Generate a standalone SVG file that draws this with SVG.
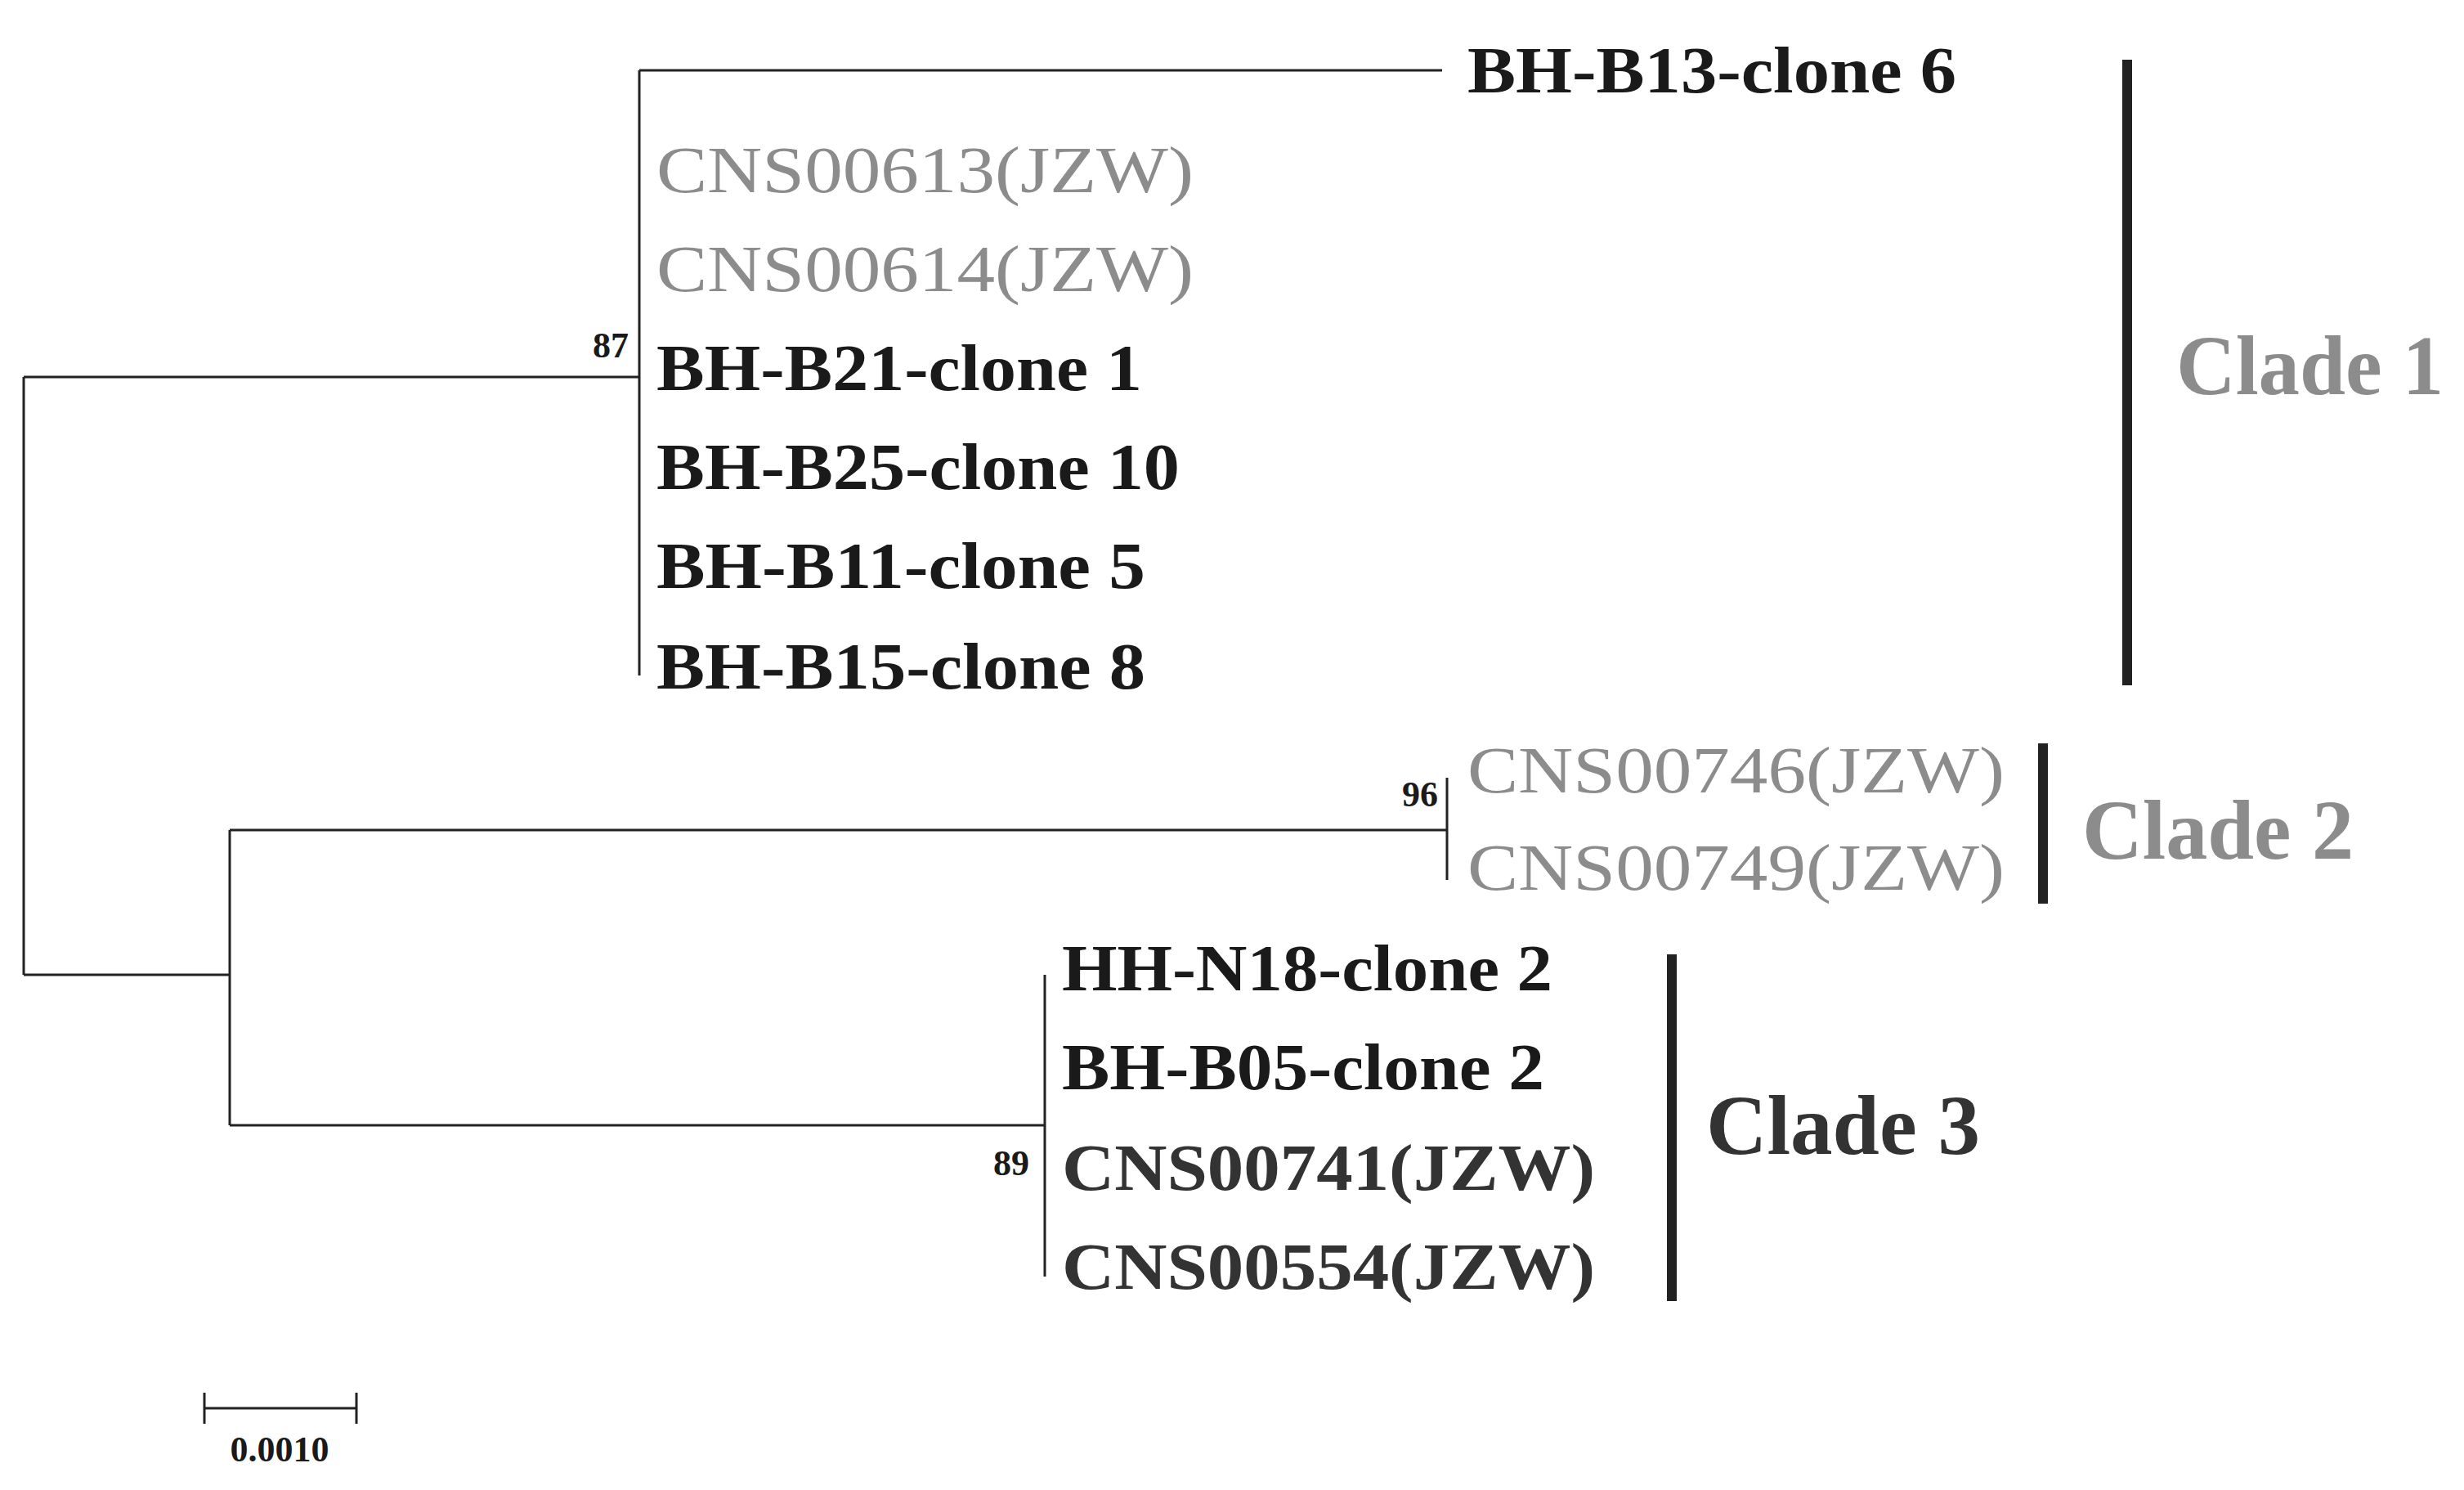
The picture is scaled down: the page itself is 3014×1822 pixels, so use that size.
<svg xmlns="http://www.w3.org/2000/svg" width="3014" height="1822" viewBox="0 0 3014 1822">
<style>
.br{stroke:#222;stroke-width:3;fill:none}
.t{font-family:"Liberation Serif","Times New Roman",serif;font-size:80px}
.b{font-weight:bold;fill:#1a1a1a}
.g{fill:#8c8c8c}
.d{font-weight:bold;fill:#333}
.bs{font-family:"Liberation Serif",serif;font-weight:bold;font-size:44px;fill:#1a1a1a}
.cl{font-family:"Liberation Serif",serif;font-weight:bold;font-size:104px}
</style>
<rect width="3014" height="1822" fill="#fff"/>
<g id="connectors">
<path class="br" d="M29,461 V1192 M29,461 H782 M782,86 V826 M782,86 H1764 M29,1192 H281 M281,1015 V1376 M281,1015 H1770 M1770,951 V1076 M281,1376 H1278 M1278,1192 V1561"/>
</g>
<g id="clade1">
<text class="t b" x="1795" y="113" textLength="598" lengthAdjust="spacingAndGlyphs">BH-B13-clone 6</text>
<text class="t g" x="803" y="235" textLength="657" lengthAdjust="spacingAndGlyphs">CNS00613(JZW)</text>
<text class="t g" x="803" y="356" textLength="657" lengthAdjust="spacingAndGlyphs">CNS00614(JZW)</text>
<text class="t b" x="803" y="477" textLength="594" lengthAdjust="spacingAndGlyphs">BH-B21-clone 1</text>
<text class="t b" x="803" y="598" textLength="640" lengthAdjust="spacingAndGlyphs">BH-B25-clone 10</text>
<text class="t b" x="803" y="719" textLength="598" lengthAdjust="spacingAndGlyphs">BH-B11-clone 5</text>
<text class="t b" x="803" y="842" textLength="598" lengthAdjust="spacingAndGlyphs">BH-B15-clone 8</text>
<text class="bs" x="769" y="437" text-anchor="end">87</text>
<rect x="2596" y="73" width="12" height="765" fill="#222"/>
<text class="cl g" x="2662" y="482" textLength="327" lengthAdjust="spacingAndGlyphs">Clade 1</text>
</g>
<g id="clade2">
<text class="t g" x="1795" y="969" textLength="657" lengthAdjust="spacingAndGlyphs">CNS00746(JZW)</text>
<text class="t g" x="1795" y="1088" textLength="657" lengthAdjust="spacingAndGlyphs">CNS00749(JZW)</text>
<text class="bs" x="1759" y="986" text-anchor="end">96</text>
<rect x="2493" y="909" width="12" height="196" fill="#222"/>
<text class="cl g" x="2547" y="1050" textLength="332" lengthAdjust="spacingAndGlyphs">Clade 2</text>
</g>
<g id="clade3">
<text class="t b" x="1299" y="1211" textLength="600" lengthAdjust="spacingAndGlyphs">HH-N18-clone 2</text>
<text class="t b" x="1299" y="1332" textLength="590" lengthAdjust="spacingAndGlyphs">BH-B05-clone 2</text>
<text class="t d" x="1299" y="1455" textLength="652" lengthAdjust="spacingAndGlyphs">CNS00741(JZW)</text>
<text class="t d" x="1299" y="1576" textLength="652" lengthAdjust="spacingAndGlyphs">CNS00554(JZW)</text>
<text class="bs" x="1259" y="1437" text-anchor="end">89</text>
<rect x="2039" y="1167" width="12" height="424" fill="#222"/>
<text class="cl d" x="2087" y="1411" textLength="335" lengthAdjust="spacingAndGlyphs">Clade 3</text>
</g>
<g id="scale">
<path class="br" d="M250,1722 H436 M250,1703 V1741 M436,1703 V1741"/>
<text class="bs" x="342" y="1787" text-anchor="middle" font-size="40">0.0010</text>
</g>
</svg>
